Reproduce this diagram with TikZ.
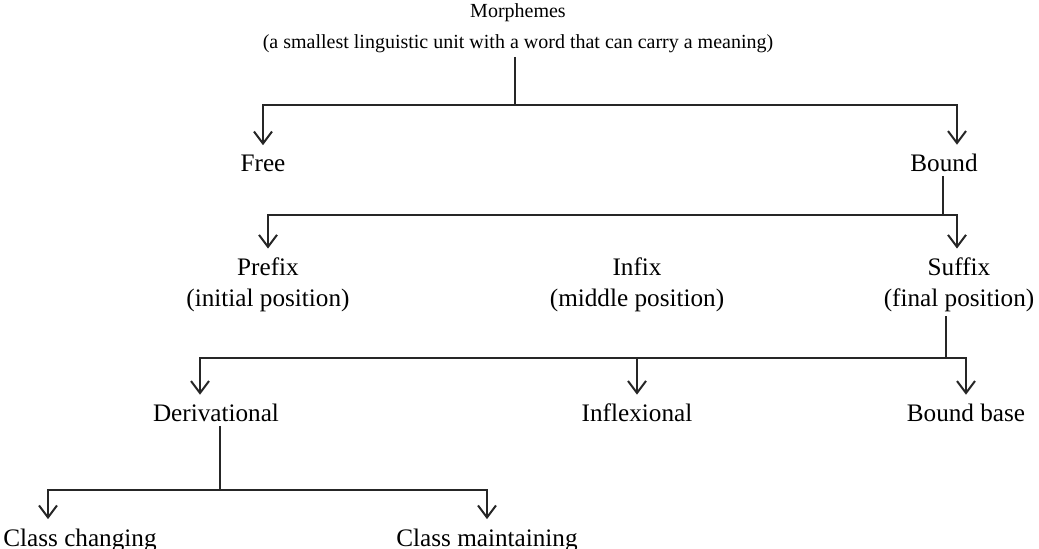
\documentclass[tikz,border=0pt]{standalone}
\usepackage{fontspec}
\setmainfont{Liberation Serif}
\usetikzlibrary{arrows.meta}

\begin{document}
\begin{tikzpicture}[x=0.5pt, y=-0.5pt,
		wordnode/.style={inner sep=2pt, align=center, font=\fontsize{12.6}{15.5}\selectfont},
		topnode/.style={wordnode, font=\fontsize{10}{15.5}\selectfont},
		branch/.style={line width=1pt, draw=black!85},
		down/.style={branch, shorten >=2.5pt, -{Straight Barb[length=6pt, width=9pt, line width=1pt]}},
	]
	\useasboundingbox (0,0) rectangle (1039,549);

	%Nodes
	\node[topnode] (morph)     at (518,28)  {Morphemes\\(a smallest linguistic unit with a word that can carry a meaning)};
	\node[wordnode] (free)     at (263,163) {Free};
	\node[wordnode] (bound)    at (944,163) {Bound};
	\node[wordnode] (prefix)   at (268,285) {Prefix\\(initial position)};
	\node[wordnode] (infix)    at (637,285) {Infix\\(middle position)};
	\node[wordnode] (suffix)   at (959,285) {Suffix\\(final position)};
	\node[wordnode] (deriv)    at (216,413) {Derivational};
	\node[wordnode] (inflex)   at (637,413) {Inflexional};
	\node[wordnode] (bbase)    at (966,413) {Bound base};
	\node[wordnode] (changing) at (80,540)  {Class changing};
	\node[wordnode] (maintain) at (487,540) {Class maintaining};

	%Bars
	\coordinate (bar1) at (515,105);
	\coordinate (bar2) at (943,215);
	\coordinate (bar3) at (946,358);
	\coordinate (bar4) at (220,490);

	%Lines
	\draw[branch] (morph.south -| bar1) -- (bar1);
	\draw[down] (bar1) -| (free.north);
	\draw[down] (bar1) -| ([xshift=6.5pt]bound.north);

	\draw[branch] (bound.south -| bar2) -- (bar2);
	\draw[down] (bar2) -| (prefix.north);
	\draw[down] (bar2) -| ([xshift=-1pt]suffix.north);

	\draw[branch] (suffix.south -| bar3) -- (bar3);
	\draw[down] (bar3) -| ([xshift=-8pt]deriv.north);
	\draw[down] (bar3) -| (inflex.north);
	\draw[down] (bar3) -| (bbase.north);

	\draw[branch] (deriv.south -| bar4) -- (bar4);
	\draw[down] (bar4) -| ([xshift=-16pt]changing.north);
	\draw[down] (bar4) -| (maintain.north);

\end{tikzpicture}
\end{document}
